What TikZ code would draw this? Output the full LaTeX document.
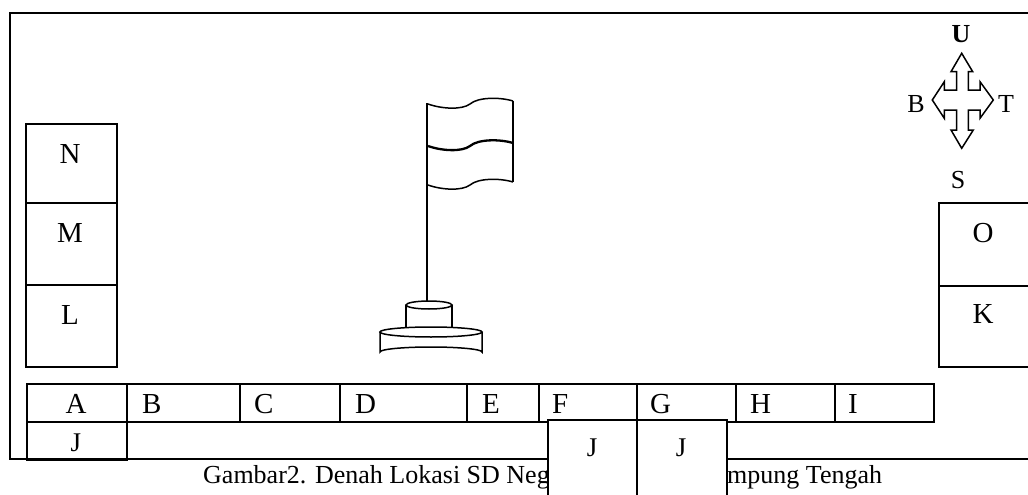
\documentclass[tikz,border=0pt]{standalone}
\usepackage{fontspec}
\setmainfont{Liberation Serif}
\begin{document}
\begin{tikzpicture}[x=1pt,y=-1pt,
  line/.style={line width=1.5pt},
  room/.style={draw, line width=1.5pt, inner sep=0pt, anchor=north west},
  lab/.style={font=\fontsize{29}{30}\selectfont, inner sep=0pt, anchor=base},
  labw/.style={lab, anchor=base west},
  jlab/.style={font=\fontsize{27}{28}\selectfont, inner sep=0pt, anchor=base},
  captxt/.style={font=\fontsize{26}{28}\selectfont, inner sep=0pt, anchor=base west},
  dir/.style={font=\fontsize{26}{27}\selectfont, inner sep=0pt, anchor=base}]
\useasboundingbox (0,0) rectangle (1028,495);
\clip (0,0) rectangle (1028,495);

% outer frame (open to the right)
\draw[line] (1030,13) -- (10,13) -- (10,459) -- (1030,459);

% left block: N, M, L
\node[room, minimum width=91pt, minimum height=79pt] (N) at (25,123) {};
\node[room, minimum width=91pt, minimum height=82pt] (M) at (25,202) {};
\node[room, minimum width=91pt, minimum height=82pt] (L) at (25,284) {};
\node[lab] (tN) at (70,163) {N};
\node[lab] (tM) at (70,242) {M};
\node[lab] (tL) at (70,324) {L};

% right block: O, K
\node[room, minimum width=92pt, minimum height=83pt] (O) at (938,202) {};
\node[room, minimum width=92pt, minimum height=81pt] (K) at (938,285) {};
\node[lab] (tO) at (983,242) {O};
\node[lab] (tK) at (983,323) {K};

% bottom row of rooms
\node[room, minimum width=100pt, minimum height=38pt] (A) at (26,383) {};
\node[room, minimum width=113pt, minimum height=38pt] (B) at (126,383) {};
\node[room, minimum width=100pt, minimum height=38pt] (C) at (239,383) {};
\node[room, minimum width=127pt, minimum height=38pt] (D) at (339,383) {};
\node[room, minimum width=72pt, minimum height=38pt] (E) at (466,383) {};
\node[room, minimum width=98pt, minimum height=38pt] (F) at (538,383) {};
\node[room, minimum width=99pt, minimum height=38pt] (G) at (636,383) {};
\node[room, minimum width=99pt, minimum height=38pt] (H) at (735,383) {};
\node[room, minimum width=99pt, minimum height=38pt] (I) at (834,383) {};
\node[room, minimum width=100pt, minimum height=38pt] (J1) at (26,421) {};
\node[lab] (tA) at (76,413) {A};
\node[labw] (tB) at (142,413) {B};
\node[labw] (tC) at (254,413) {C};
\node[labw] (tD) at (355,413) {D};
\node[labw] (tE) at (482,413) {E};
\node[labw] (tF) at (552,413) {F};
\node[labw] (tG) at (650,413) {G};
\node[labw] (tH) at (750,413) {H};
\node[labw] (tI) at (848,413) {I};
\node[jlab] (tJ1) at (76,451) {J};

% caption
\node[captxt] (cap1) at (203,483) {Gambar2. Denah Lokasi SD Neg};
\node[captxt] (cap2) at (727,483) {mpung Tengah};

% the two J rooms lie over the caption
\node[room, fill=white, minimum width=89pt, minimum height=90pt] (J2) at (547,419) {};
\node[room, fill=white, minimum width=90pt, minimum height=90pt] (J3) at (636,419) {};
\node[jlab] (tJ2) at (592,456) {J};
\node[jlab] (tJ3) at (681,456) {J};

% flag pole and flag
\draw[line] (427,103) -- (427,301);
\draw[line] (513,101) -- (513,182);
\foreach \dy/\w in {0/1.5pt, 42/2.3pt, 81/1.5pt}{
  \draw[line width=\w] (428,104+\dy) .. controls (442,109+\dy) and (462,110+\dy) .. (470,104+\dy)
        .. controls (478,97+\dy) and (500,97+\dy) .. (513,101+\dy);
}

% pedestal
\draw[line] (380,332) -- (380,352) arc[start angle=180, end angle=360, x radius=51, y radius=5] -- (482,332);
\draw[line] (431,332) ellipse[x radius=51, y radius=5];
\draw[line] (406,305) -- (406,328);
\draw[line] (452,305) -- (452,328);
\draw[line] (429,305) ellipse[x radius=23, y radius=4];

% compass
\draw[line] (961.7,53.3) -- (972.7,71.7) -- (968.3,71.7) -- (968.3,90) -- (980,90) -- (980,81.7)
  -- (993.3,100) -- (980,118.3) -- (980,110) -- (968.3,110) -- (968.3,130) -- (973.3,130)
  -- (961.7,148.3) -- (951,130) -- (956.7,130) -- (956.7,110) -- (944.3,110) -- (944.3,118.3)
  -- (932.3,100) -- (944.3,81.7) -- (944.3,90) -- (956.7,90) -- (956.7,71.7) -- (951,71.7) -- cycle;
\node[dir, font=\fontsize{26}{27}\selectfont\bfseries] (U) at (961,43) {U};
\node[dir] (Bw) at (916,112) {B};
\node[dir] (Te) at (1006,112) {T};
\node[dir] (S) at (958,188) {S};
\end{tikzpicture}
\end{document}
